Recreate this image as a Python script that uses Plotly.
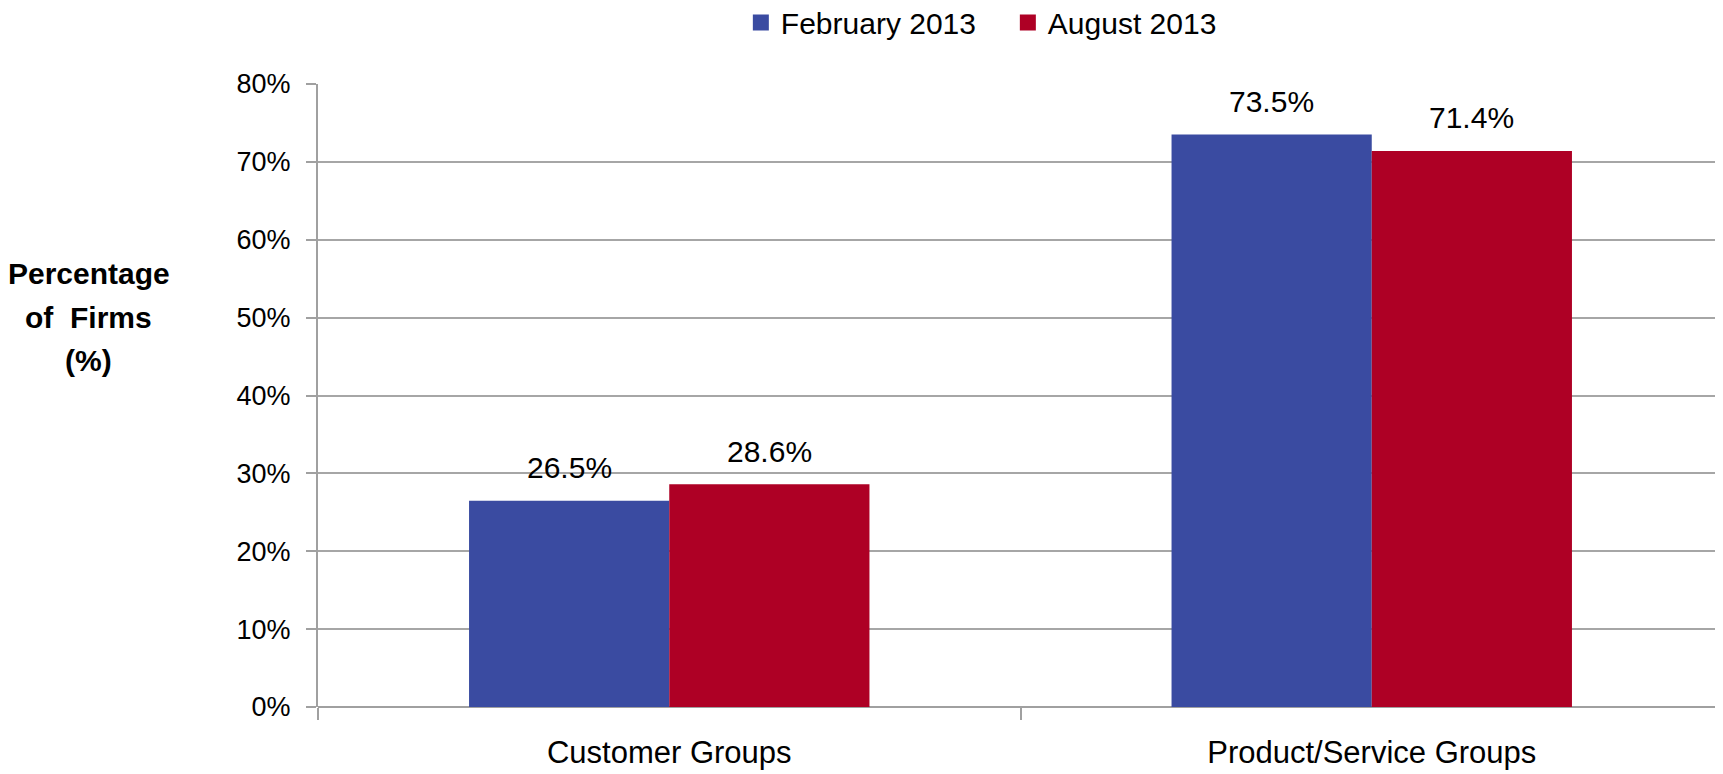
import plotly.graph_objects as go

categories = ["Customer Groups", "Product/Service Groups"]
feb_2013 = [26.5, 73.5]
aug_2013 = [28.6, 71.4]
series_names = ["February 2013", "August 2013"]
colors = ["#3A4BA1", "#AE0025"]
y_ticks = [0, 10, 20, 30, 40, 50, 60, 70, 80]
y_tick_labels = [f"{v}%" for v in y_ticks]
y_title_lines = ["Percentage", "of  Firms", "(%)"]

# page body has an 8px margin; size figure so it ends at the window edge
W, H = 1715, 766
ML, MR, MT, MB = 310, 0, 75.5, 67
plot_w = W - ML - MR
plot_h = H - MT - MB
FONT = "Liberation Sans, Arial, sans-serif"

fig = go.Figure()
for name, vals, col in zip(series_names, [feb_2013, aug_2013], colors):
    fig.add_trace(go.Bar(x=categories, y=vals, name=name, marker_color=col,
                         marker_line_width=0, showlegend=False))
    fig.add_trace(go.Scatter(x=[None], y=[None], mode="markers", name=name,
                             marker=dict(symbol="square", size=16, color=col)))

bargap = 0.43
bar_px = (plot_w / len(categories)) * (1 - bargap) / 2
annotations = []
for i, vals in enumerate([feb_2013, aug_2013]):
    shift = (-0.5 if i == 0 else 0.5) * bar_px
    for c, v in zip(categories, vals):
        annotations.append(dict(x=c, y=v, text=f"{v:.1f}%", showarrow=False,
                                xshift=shift, yshift=33, yanchor="middle",
                                font=dict(size=30, color="black", family=FONT)))

# y-axis title drawn as three bold lines, 44px apart, centred left of the axis
title_center_y = 0.626
line_step = 44 / plot_h
for k, line in enumerate(y_title_lines):
    annotations.append(dict(xref="paper", yref="paper", x=(81 - ML) / plot_w,
                            y=title_center_y + (1 - k) * line_step,
                            text=f"<b>{line}</b>", showarrow=False,
                            xanchor="center", yanchor="middle",
                            font=dict(size=30, color="black", family=FONT)))

fig.update_layout(
    width=W, height=H,
    margin=dict(l=ML, r=MR, t=MT, b=MB),
    plot_bgcolor="white", paper_bgcolor="white",
    barmode="group", bargap=bargap, bargroupgap=0,
    font=dict(family=FONT, color="black"),
    legend=dict(orientation="h", xref="container", x=0.583, xanchor="center",
                yref="container", y=0.981, yanchor="middle",
                font=dict(size=30, family=FONT),
                itemwidth=30, entrywidth=222, entrywidthmode="pixels", tracegroupgap=0),
    annotations=annotations,
)
fig.update_xaxes(type="category", showgrid=False, showline=False, automargin=False,
                 ticks="outside", tickson="boundaries", ticklen=12, tickcolor="#A0A0A0",
                 tickwidth=1.5, tickfont=dict(size=31, family=FONT), ticklabelstandoff=24)
fig.update_yaxes(range=[0, 80], tickvals=y_ticks, ticktext=y_tick_labels, automargin=False,
                 showgrid=True, gridcolor="#A6A6A6", gridwidth=1.5,
                 showline=True, linecolor="#A0A0A0", linewidth=2,
                 ticks="outside", ticklen=10, tickcolor="#A0A0A0", tickwidth=1.5,
                 tickfont=dict(size=27, family=FONT), ticklabelstandoff=10, zeroline=True,
                 zerolinecolor="#A0A0A0", zerolinewidth=2)

fig.write_html("out.html")
